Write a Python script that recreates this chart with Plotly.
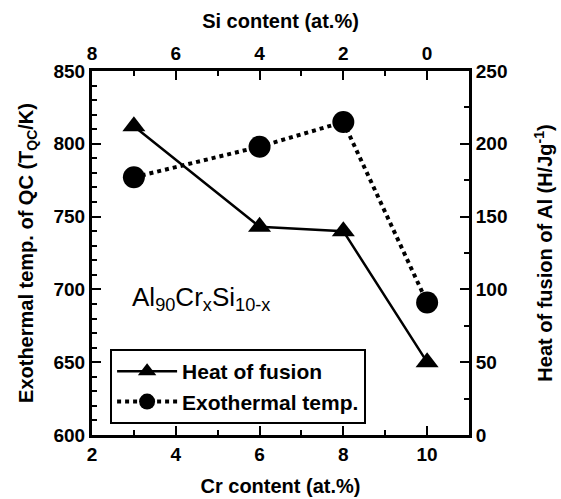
import plotly.graph_objects as go

cr_content = [3, 6, 8, 10]
heat_of_fusion = [212, 143, 140, 50]
exothermal_temp = [777, 798, 815, 691]

FONT = "Liberation Sans, Arial, sans-serif"
TICKF = dict(family=FONT, size=19, color="black", weight="bold")
TITLEF = dict(family=FONT, size=20, color="black", weight="bold")

fig = go.Figure()
fig.add_trace(go.Scatter(
    x=cr_content, y=heat_of_fusion, yaxis="y2", name="Heat of fusion",
    mode="lines+markers",
    line=dict(color="black", width=2.5, dash="solid"),
    marker=dict(symbol="triangle-up", size=20, color="black"),
))
fig.add_trace(go.Scatter(
    x=cr_content, y=exothermal_temp, yaxis="y", name="Exothermal temp.",
    mode="lines+markers",
    line=dict(color="black", width=4, dash="dot"),
    marker=dict(symbol="circle", size=22, color="black"),
))
# invisible trace to anchor top axis
fig.add_trace(go.Scatter(x=[8, -1], y=[700, 700], xaxis="x2", yaxis="y",
                         mode="markers", marker=dict(opacity=0), showlegend=False,
                         hoverinfo="skip"))

axis_common = dict(showline=True, linecolor="black", linewidth=3, ticks="inside",
                   ticklen=9, tickwidth=2, tickcolor="black", showgrid=False,
                   zeroline=False, tickfont=TICKF, automargin=False,
                   minor=dict(ticks="inside", ticklen=5, tickwidth=1.5, tickcolor="black"))

fig.update_layout(
    width=561, height=499,
    margin=dict(l=92, r=92, t=71, b=64),
    paper_bgcolor="white", plot_bgcolor="white",
    font=dict(family=FONT, color="black"),
    xaxis=dict(range=[2, 11], dtick=2, tick0=2,
               title=dict(text="Cr content (at.%)", font=TITLEF, standoff=16),
               **axis_common),
    xaxis2=dict(range=[8, -1], dtick=2, tick0=0, overlaying="x", side="top", anchor="y",
                title=dict(text="Si content (at.%)", font=TITLEF, standoff=10),
                **axis_common),
    yaxis=dict(range=[600, 850], dtick=50,
               title=dict(text="Exothermal temp. of QC (T<sub>QC</sub>/K)", font=TITLEF, standoff=15),
               **axis_common),
    yaxis2=dict(range=[0, 250], dtick=50, overlaying="y", side="right", anchor="x",
                title=dict(text="Heat of fusion of Al (H/Jg<sup>-1</sup>)", font=TITLEF, standoff=32),
                **axis_common),
    legend=dict(x=0.048, y=0.236, xanchor="left", yanchor="top",
                bordercolor="black", borderwidth=2, bgcolor="white",
                font=dict(family=FONT, size=21, color="black", weight="bold"),
                itemsizing="trace", itemwidth=60, tracegroupgap=0),
    showlegend=True,
)
fig.update_xaxes(minor=dict(dtick=1))
fig.update_layout(yaxis=dict(minor=dict(dtick=10)), yaxis2=dict(minor=dict(dtick=25)))

fig.add_annotation(x=3, y=694, xref="x", yref="y", xanchor="left", yanchor="middle",
                   xshift=-4,
                   text="Al<sub>90</sub>Cr<sub>x</sub>Si<sub>10-x</sub>", showarrow=False,
                   font=dict(family=FONT, size=26, color="black"))

fig.write_html("out.html")
